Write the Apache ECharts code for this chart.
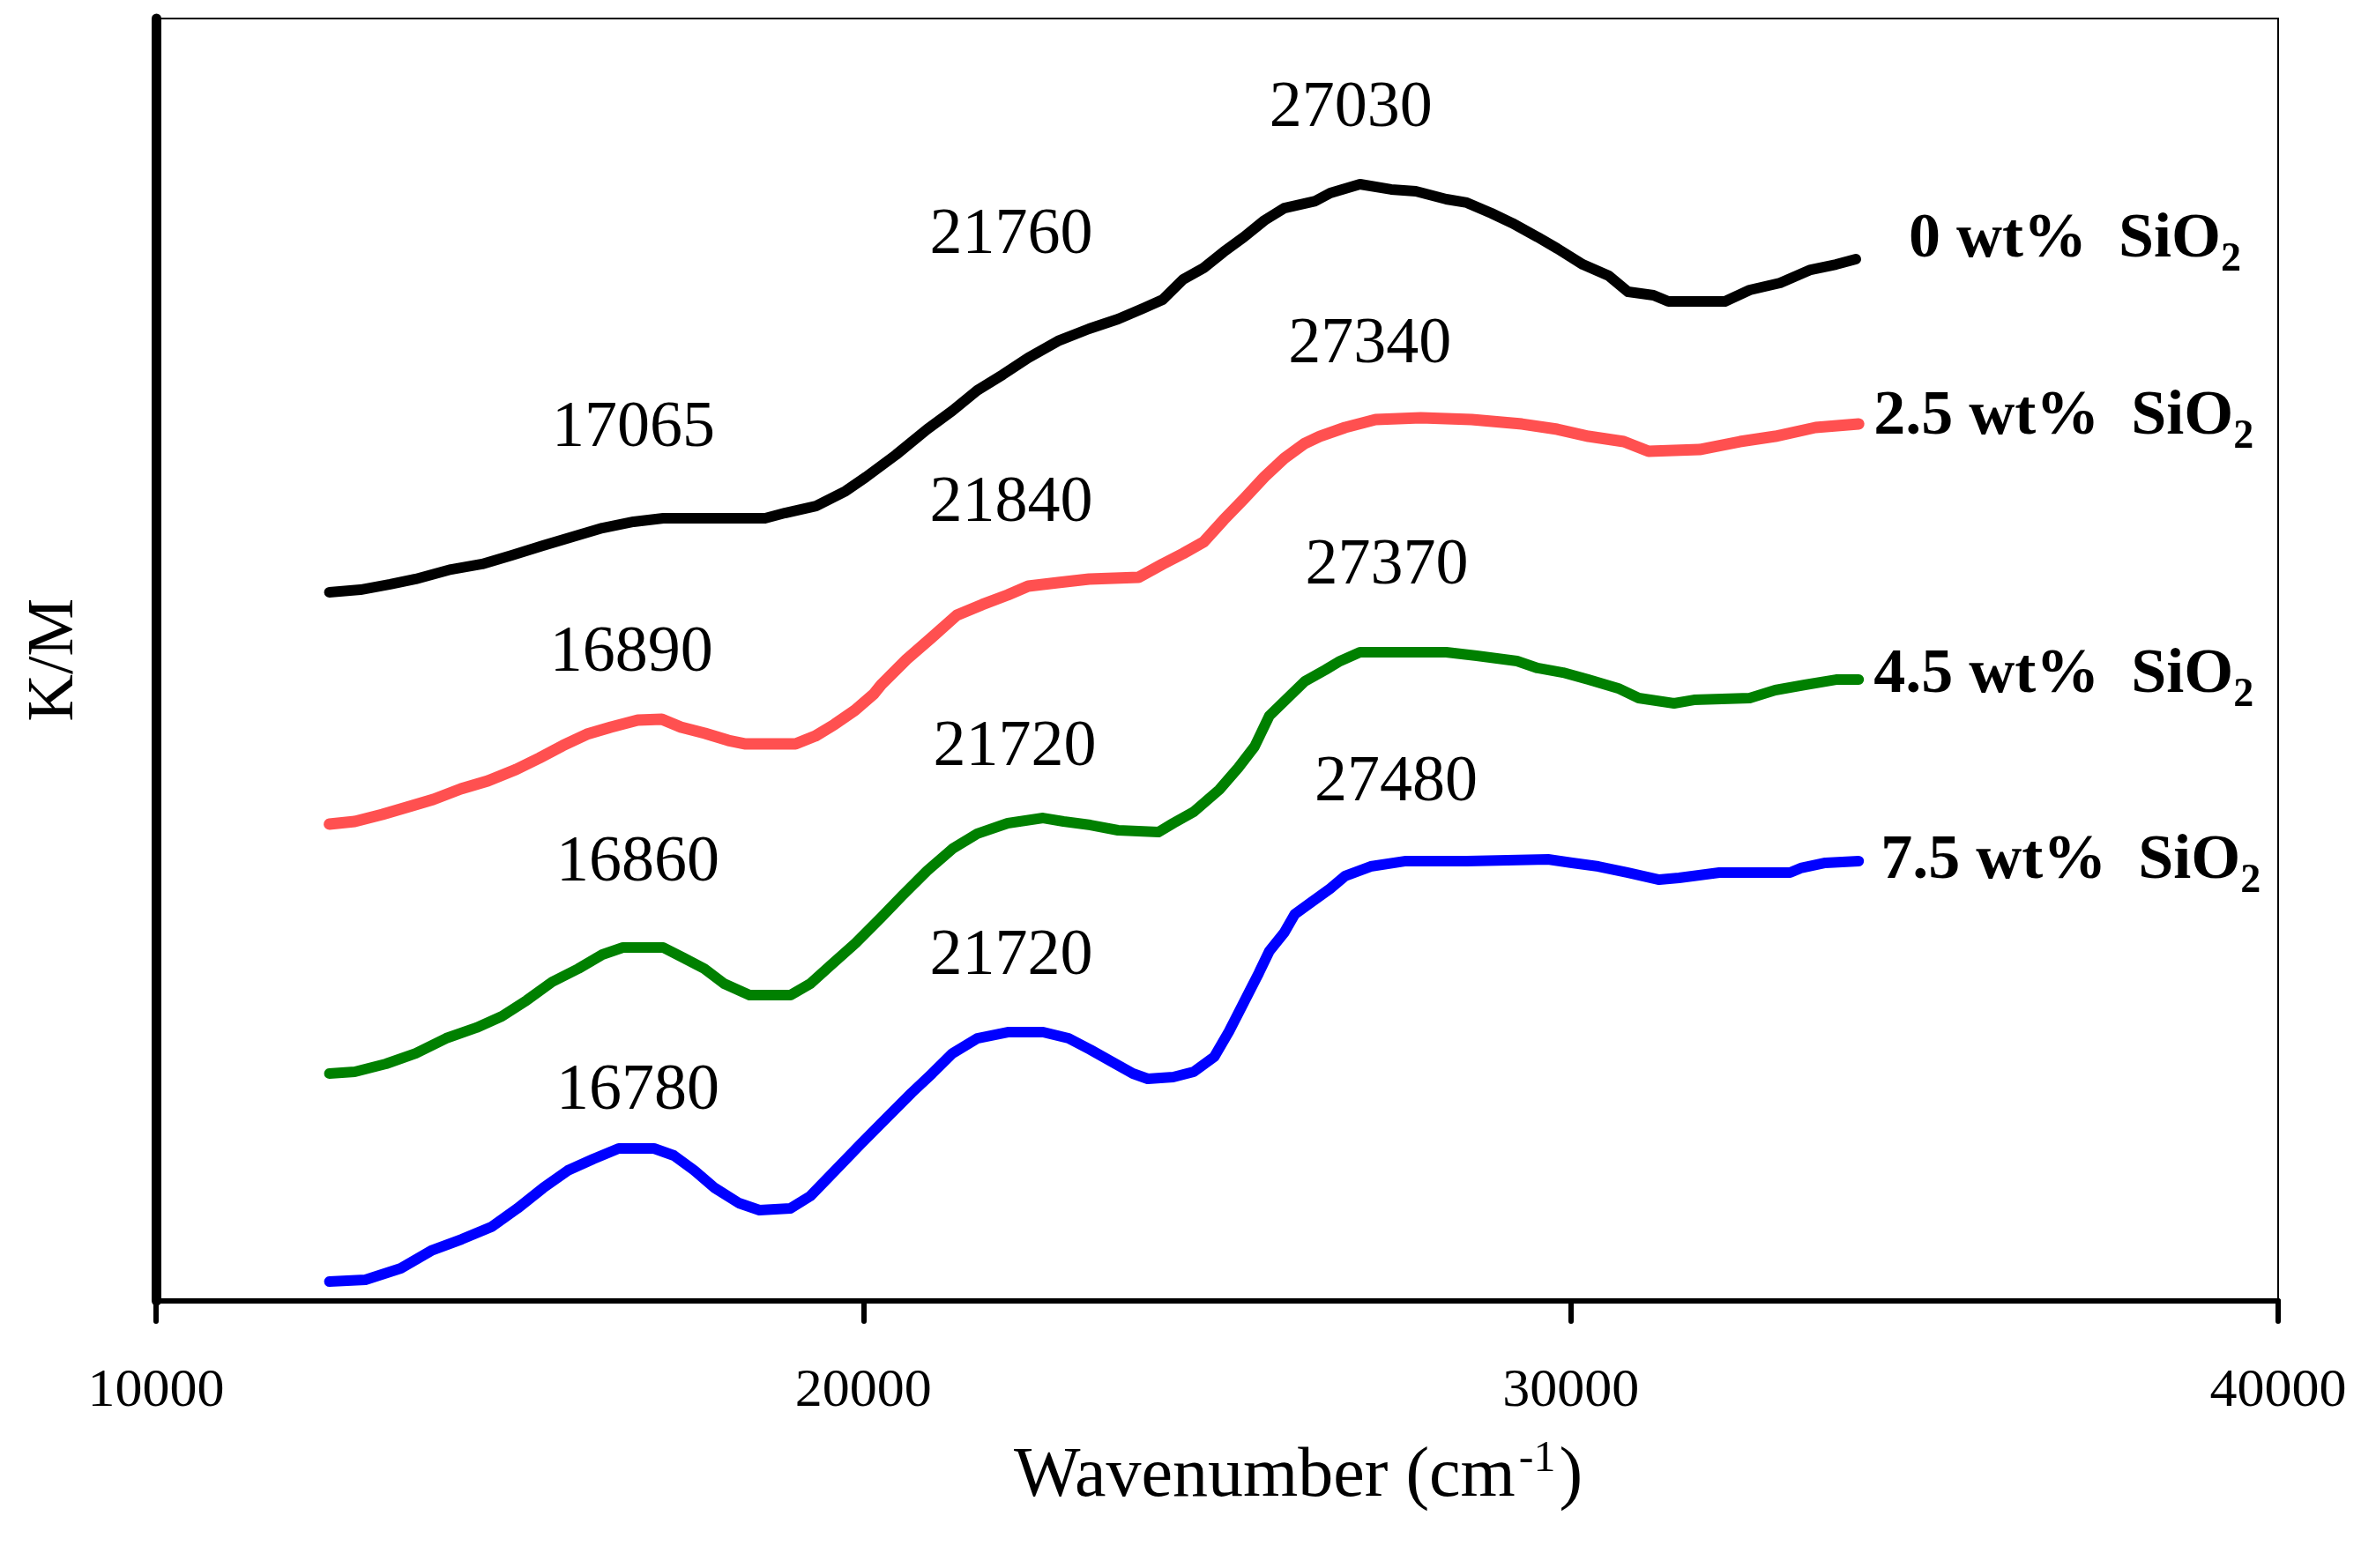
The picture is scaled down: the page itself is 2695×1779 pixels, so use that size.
<!DOCTYPE html>
<html><head><meta charset="utf-8">
<script src="https://cdn.jsdelivr.net/npm/echarts@6/dist/echarts.min.js"></script>
<style>html,body{margin:0;padding:0;background:#fff}#c{width:2695px;height:1779px}</style>
</head><body><div id="c"></div>
<script>
// ---- data (wavenumber cm^-1, K/M in arbitrary offset units) ----
const xTicks = [10000, 20000, 30000, 40000];
const seriesNames = ['0 wt%  SiO', '2.5 wt%  SiO', '4.5 wt%  SiO', '7.5 wt%  SiO'];

const wt0 = [[12450,55.26],[12890,55.46],[13310,55.88],[13670,56.29],[14170,57.04],[14610,57.46],[15030,58.14],[15470,58.90],[15890,59.59],[16310,60.27],[16750,60.76],[17170,61.03],[18610,61.03],[18890,61.44],[19330,61.99],[19750,63.16],[20040,64.26],[20460,65.98],[20900,67.97],[21260,69.42],[21610,71.00],[21970,72.23],[22330,73.54],[22750,74.85],[23190,75.81],[23600,76.56],[23950,77.39],[24230,78.08],[24520,79.66],[24810,80.55],[25090,81.79],[25380,82.96],[25670,84.26],[25950,85.22],[26390,85.77],[26600,86.39],[27020,87.08],[27460,86.67],[27810,86.53],[28240,85.91],[28530,85.64],[28880,84.81],[29170,84.05],[29530,82.96],[29810,82.06],[30170,80.82],[30540,79.93],[30810,78.69],[31170,78.42],[31380,77.94],[32180,77.94],[32530,78.83],[32960,79.38],[33390,80.41],[33750,80.82],[34030,81.24]];

const wt25 = [[12450,37.18],[12810,37.39],[13200,37.94],[13540,38.49],[13920,39.11],[14310,39.93],[14690,40.55],[15090,41.44],[15420,42.34],[15750,43.30],[16090,44.19],[16430,44.74],[16810,45.29],[17150,45.36],[17420,44.74],[17760,44.26],[18090,43.71],[18320,43.44],[19040,43.44],[19320,44.05],[19590,44.95],[19880,46.05],[20150,47.35],[20250,48.04],[20610,50.03],[20970,51.75],[21320,53.47],[21680,54.30],[22040,55.05],[22330,55.74],[22750,56.01],[23190,56.29],[23890,56.43],[24230,57.46],[24520,58.28],[24810,59.18],[25090,60.89],[25380,62.54],[25670,64.26],[25950,65.70],[26240,66.87],[26450,67.42],[26810,68.11],[27240,68.73],[27880,68.87],[28600,68.73],[29310,68.38],[29810,67.97],[30250,67.42],[30750,67.01],[31100,66.25],[31820,66.39],[32390,67.01],[32890,67.42],[33460,68.11],[34070,68.38]];

const wt45 = [[12450,17.73],[12810,17.87],[13250,18.49],[13670,19.31],[14100,20.48],[14530,21.31],[14890,22.20],[15240,23.44],[15600,24.88],[15970,25.91],[16310,27.01],[16600,27.56],[17170,27.56],[17460,26.74],[17750,25.91],[18030,24.74],[18390,23.85],[18970,23.85],[19250,24.74],[19540,26.19],[19890,27.90],[20250,29.90],[20540,31.55],[20900,33.54],[21260,35.26],[21610,36.43],[22040,37.25],[22540,37.66],[22830,37.39],[23210,37.11],[23600,36.70],[24170,36.56],[24380,37.25],[24670,38.14],[25030,39.86],[25300,41.58],[25530,43.23],[25740,45.64],[26240,48.32],[26530,49.21],[26740,49.90],[27020,50.58],[27520,50.58],[28240,50.58],[28670,50.31],[29240,49.90],[29530,49.35],[29890,49.00],[30250,48.45],[30670,47.77],[30960,47.01],[31460,46.60],[31740,46.87],[32530,47.01],[32890,47.63],[33310,48.04],[33750,48.45],[34070,48.45]];

const wt75 = [[12450,1.51],[12960,1.65],[13460,2.54],[13890,3.92],[14320,4.81],[14740,5.77],[15110,7.22],[15470,8.80],[15820,10.17],[16180,11.07],[16540,11.89],[17040,11.89],[17320,11.34],[17610,10.17],[17900,8.80],[18240,7.63],[18530,7.08],[18970,7.22],[19250,8.18],[19600,10.17],[19960,12.23],[20320,14.23],[20680,16.22],[20970,17.73],[21260,19.31],[21610,20.48],[22040,20.96],[22540,20.96],[22900,20.48],[23210,19.59],[23520,18.63],[23810,17.73],[24020,17.32],[24380,17.46],[24670,17.87],[24960,19.04],[25170,21.03],[25380,23.30],[25590,25.57],[25740,27.29],[25950,28.73],[26100,30.17],[26310,31.00],[26600,32.16],[26810,33.13],[27170,33.88],[27670,34.30],[28530,34.30],[29680,34.43],[30020,34.16],[30390,33.88],[30810,33.40],[31250,32.85],[31530,32.99],[32100,33.40],[33100,33.40],[33250,33.75],[33600,34.16],[34070,34.30]];

const peakLabels = [
  ['27030', 26890, 92.92], ['21760', 22090, 83.02], ['17065', 16750, 67.97],
  ['27340', 27160, 74.50], ['21840', 22090, 62.13], ['16890', 16720, 50.45],
  ['27370', 27400, 57.25], ['21720', 22140, 43.09], ['16860', 16810, 34.09],
  ['27480', 27530, 40.34], ['21720', 22090, 26.80], ['16780', 16810, 16.29]
];

// ---- styles ----
const SERIF = '"Liberation Serif","Times New Roman",serif';
const colors = ['#000000', '#ff5050', '#008000', '#0000ff'];
const labelOffsets = [[60, -22], [17, -8], [17, -5], [25, 0]];
const datasets = [wt0, wt25, wt45, wt75];

const subRich = {
  a: {fontSize: 72, fontWeight: 'bold', fontFamily: SERIF, color: '#000', lineHeight: 80},
  b: {fontSize: 46, fontWeight: 'bold', fontFamily: SERIF, color: '#000', lineHeight: 80, verticalAlign: 'bottom', padding: [0, 0, -6, 0]}
};

const lineSeries = datasets.map((d, i) => ({
  type: 'line',
  name: seriesNames[i],
  data: d,
  showSymbol: false,
  smooth: false,
  silent: true,
  lineStyle: {color: colors[i], width: i === 1 ? 13 : 12, cap: 'round', join: 'round'},
  endLabel: {
    show: true,
    formatter: '{a|' + seriesNames[i] + '}{b|2}',
    rich: subRich,
    distance: 0,
    offset: labelOffsets[i]
  },
  z: 3
}));

const peakSeries = {
  type: 'scatter',
  silent: true,
  symbolSize: 0,
  itemStyle: {opacity: 1},
  data: peakLabels.map(p => ({name: p[0], value: [p[1], p[2]]})),
  label: {show: true, position: 'inside', formatter: '{b}', fontSize: 74, fontFamily: SERIF, color: '#000', opacity: 1},
  z: 4
};

const chart = echarts.init(document.getElementById('c'), null, {renderer: 'canvas'});
chart.setOption({
  backgroundColor: '#fff',
  animation: false,
  grid: {left: 177, right: 111, top: 21, bottom: 303, show: true, borderColor: '#000', borderWidth: 2, backgroundColor: 'transparent'},
  xAxis: {
    type: 'value', min: xTicks[0], max: xTicks[xTicks.length - 1], interval: 10000,
    name: '{a|Wavenumber (cm}{b|-1}{a|)}',
    nameLocation: 'middle', nameGap: 155,
    nameTextStyle: {
      padding: [0, 0, 0, 184],
      rich: {
        a: {fontSize: 80, fontFamily: SERIF, color: '#000', lineHeight: 90},
        b: {fontSize: 50, fontFamily: SERIF, color: '#000', lineHeight: 90, verticalAlign: 'top', padding: [0, 4, 0, 4]}
      }
    },
    axisLine: {show: true, onZero: false, lineStyle: {color: '#000', width: 6}},
    axisTick: {show: true, inside: false, length: 23, lineStyle: {color: '#000', width: 6, cap: 'round'}},
    axisLabel: {fontSize: 62, fontFamily: SERIF, color: '#000', margin: 72, formatter: v => String(v)},
    splitLine: {show: false}
  },
  yAxis: {
    type: 'value', min: 0, max: 100,
    name: 'K/M', nameLocation: 'middle', nameGap: 77,
    nameTextStyle: {fontSize: 74, fontFamily: SERIF, color: '#000'},
    axisLine: {show: true, onZero: false, lineStyle: {color: '#000', width: 11, cap: 'round'}},
    axisTick: {show: false}, axisLabel: {show: false}, splitLine: {show: false}
  },
  series: lineSeries.concat([peakSeries])
});
</script></body></html>
